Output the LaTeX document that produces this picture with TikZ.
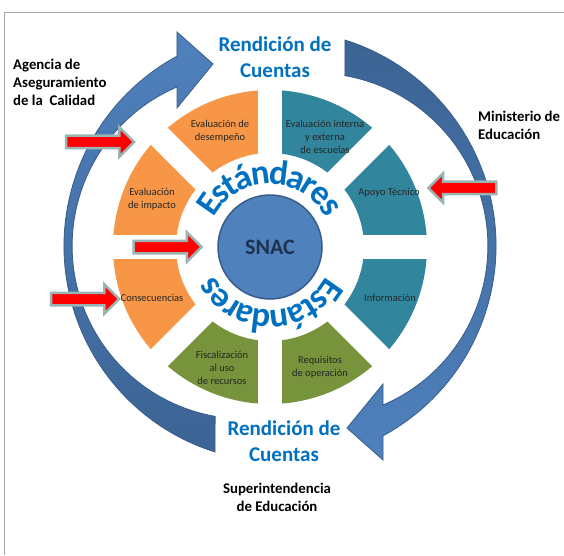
\documentclass[tikz,border=0pt]{standalone}
\usepackage{fontspec}
\setmainfont{Carlito}
\usetikzlibrary{calc,shapes.arrows,decorations.text}
\definecolor{secOrange}{HTML}{F79646}
\definecolor{secTeal}{HTML}{31859C}
\definecolor{secGreen}{HTML}{77933C}
\definecolor{arrLight}{HTML}{4F81BD}
\definecolor{arrDark}{HTML}{3C6494}
\definecolor{arrEdge}{HTML}{385D8A}
\definecolor{titleBlue}{HTML}{0070C0}
\definecolor{snacText}{HTML}{1F3250}
\definecolor{redEdge}{HTML}{9AB3B3}

\begin{document}
\begin{tikzpicture}[x=1pt,y=1pt,
  sector/.style={font=\fontsize{10.5}{12.8}\selectfont,text=black!85,align=center},
  actor/.style={font=\bfseries\fontsize{14.8}{18}\selectfont,align=left,inner sep=0pt},
  rendicion/.style={font=\bfseries\fontsize{21}{26}\selectfont,text=titleBlue,align=center},
  push/.style={single arrow,fill=red,draw=redEdge,line width=2.5pt,minimum height=68pt,
    minimum width=0pt,inner sep=5pt,single arrow head extend=8.5pt,outer sep=0pt},
  bigarrow/.style={draw=arrEdge,line width=0.8pt},
  arched/.style={decorate,decoration={text along path,text align=center,text color=titleBlue,raise=-11pt,
    text={|\bfseries\fontsize{35}{35}\selectfont|Estándares}}}]
\useasboundingbox (0,0) rectangle (564,555);
% Frame
\path[draw=gray!70,line width=0.8pt] (4,0) -- (4,543) -- (564,543);
% Sectors
\coordinate (O) at (270,308);
\foreach \a/\c in {0/secTeal,45/secTeal,90/secOrange,135/secOrange,180/secOrange,225/secGreen,270/secGreen,315/secTeal}{
\fill[\c] ($(O)+(\a:94)$) -- ($(O)+(\a:157)$) arc[start angle=\a,end angle=\a+45,radius=157]
  -- ($(O)+(\a+45:94)$) arc[start angle=\a+45,end angle=\a,radius=94] -- cycle;
}
% Gaps
\foreach \a in {0,45,90,135}{
\draw[white,line width=24pt] ($(O)+(\a:165)$) -- ($(O)+(\a+180:165)$);
}
% Rendicion de cuentas (left arrow)
\path[bigarrow,top color=arrLight,bottom color=arrDark] (280,309) ++(252.5:216)
  arc[start angle=252.5,end angle=118.5,radius=216] -- (177,523) -- (213,491) -- (177,447) -- (177,468)
  arc[start angle=113.2,end angle=260,radius=173] -- cycle;
% Rendicion de cuentas (right arrow)
\path[bigarrow,top color=arrDark,bottom color=arrLight] (280,309) ++(72.5:216)
  arc[start angle=72.5,end angle=-61.5,radius=216] -- (383,95) -- (347,127) -- (383,171) -- (383,150)
  arc[start angle=-66.8,end angle=80,radius=173] -- cycle;
% Labels in the ring
\node[sector] (desempeno) at (220,424) {Evaluación de\\desempeño};
\node[sector] (interna) at (325,418) {Evaluación interna\\y externa\\de escuelas};
\node[sector] (apoyo) at (389,362) {Apoyo Técnico};
\node[sector] (informacion) at (390,257) {Información};
\node[sector] (requisitos) at (320,188) {Requisitos\\de operación};
\node[sector] (fiscalizacion) at (222,187) {Fiscalización\\al uso\\de recursos};
\node[sector] (consecuencias) at (152,257) {Consecuencias};
\node[sector] (impacto) at (152,356) {Evaluación\\de impacto};
% Estandares
\path[arched] ($(O)+(180:74)$) arc[start angle=180,end angle=0,radius=74];
\path[arched] ($(O)+(0:74)$) arc[start angle=0,end angle=-180,radius=74];
% SNAC
\node[circle,fill=arrLight,draw=arrEdge,line width=1.5pt,minimum size=104pt,inner sep=0pt,
  font=\bfseries\fontsize{22}{22}\selectfont,text=snacText] (snac) at (O) {SNAC};
% Red arrows
\node[push] (pushA) at (97,413) {};
\node[push] (pushB) at (164.5,308) {};
\node[push] (pushC) at (82,256) {};
\node[push,shape border rotate=180] (pushD) at (465.5,367) {};
% Titles
\node[rendicion] (rendTop) at (275,498) {Rendición de\\Cuentas};
\node[rendicion] (rendBot) at (284,114) {Rendición de\\Cuentas};
\node[actor,anchor=north west] (agencia) at (13,496) {Agencia de\\Aseguramiento\\de la~~Calidad};
\node[actor,anchor=north west] (ministerio) at (478,444) {Ministerio de\\Educación};
\node[actor,align=center] (superint) at (277,58) {Superintendencia\\de Educación};
\end{tikzpicture}
\end{document}
